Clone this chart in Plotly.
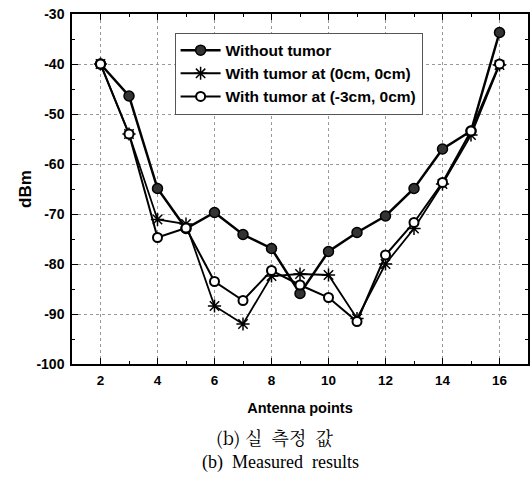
import plotly.graph_objects as go

antenna_points = list(range(2, 17))
without_tumor = [-40, -46.4, -64.9, -72.9, -69.7, -74.1, -76.9, -85.9, -77.5, -73.7, -70.4, -64.9, -57.0, -53.4, -33.7]
tumor_0_0 = [-40, -54.0, -71.1, -72.0, -88.4, -92.0, -82.4, -82.0, -82.2, -90.9, -80.0, -72.9, -64.0, -54.2, -40.2]
tumor_m3_0 = [-40, -54.0, -74.7, -72.8, -83.5, -87.3, -81.3, -84.2, -86.7, -91.5, -78.2, -71.7, -63.7, -53.4, -40.0]

x_ticks = [2, 4, 6, 8, 10, 12, 14, 16]
y_ticks = [-30, -40, -50, -60, -70, -80, -90, -100]

fig = go.Figure()
fig.add_trace(go.Scatter(
    x=antenna_points, y=without_tumor, mode="lines+markers", name="Without tumor",
    line=dict(color="black", width=2.5),
    marker=dict(symbol="circle", size=10, color="#333333", line=dict(color="black", width=1.5)),
))
fig.add_trace(go.Scatter(
    x=antenna_points, y=tumor_0_0, mode="lines+markers", name="With tumor at (0cm, 0cm)",
    line=dict(color="black", width=1.8),
    marker=dict(symbol="asterisk-open", size=11, color="black", line=dict(color="black", width=1.5)),
))
fig.add_trace(go.Scatter(
    x=antenna_points, y=tumor_m3_0, mode="lines+markers", name="With tumor at (-3cm, 0cm)",
    line=dict(color="black", width=2),
    marker=dict(symbol="circle", size=9, color="white", line=dict(color="black", width=2)),
))

fig.update_layout(
    width=532, height=481,
    margin=dict(l=72, r=4, t=14, b=117, autoexpand=False),
    paper_bgcolor="white", plot_bgcolor="white",
    font=dict(family="Liberation Sans, Arial, sans-serif", color="black"),
    legend=dict(
        x=0.225, y=0.947, xanchor="left", yanchor="top",
        bgcolor="white", bordercolor="#555555", borderwidth=1,
        font=dict(family="Liberation Sans, Arial, sans-serif", size=15.5, color="black", weight="bold"),
        tracegroupgap=0, itemwidth=40,
    ),
    showlegend=True,
)
fig.update_xaxes(
    range=[1, 17], tickvals=x_ticks, ticktext=[str(v) for v in x_ticks],
    ticks="inside", ticklen=6, tickcolor="black", mirror="ticks",
    showline=True, linecolor="black", linewidth=1.5,
    showgrid=True, gridcolor="#999999", griddash="dot", gridwidth=1,
    minor=dict(dtick=1, tick0=1, ticks="inside", ticklen=3, tickcolor="black", showgrid=False),
    tickfont=dict(family="Liberation Sans, Arial, sans-serif", size=13.5, color="black", weight="bold"),
    ticklabelstandoff=3, ticklabeloverflow="allow", automargin=False,
    title=dict(text="<b>Antenna points</b>", font=dict(size=14.5), standoff=16),
    zeroline=False,
)
fig.update_yaxes(
    range=[-100, -30], tickvals=y_ticks, ticktext=[str(v) for v in y_ticks],
    ticks="inside", ticklen=6, tickcolor="black", mirror="ticks",
    showline=True, linecolor="black", linewidth=1.5,
    showgrid=True, gridcolor="#999999", griddash="dot", gridwidth=1,
    minor=dict(dtick=5, tick0=-100, ticks="inside", ticklen=3, tickcolor="black", showgrid=False),
    tickfont=dict(family="Liberation Sans, Arial, sans-serif", size=14, color="black", weight="bold"),
    ticklabelstandoff=3, ticklabeloverflow="allow", automargin=False,
    title=dict(text="<b>dBm</b>", font=dict(size=17), standoff=0),
    zeroline=False,
)
fig.add_annotation(
    text="(b) 실  측정  값", xref="paper", yref="paper", x=0.445, y=-0.209,
    xanchor="center", yanchor="middle", showarrow=False,
    font=dict(family="Noto Serif CJK KR, Noto Sans CJK KR, Liberation Serif, serif", size=18, color="black"),
)
fig.add_annotation(
    text="(b)  Measured  results", xref="paper", yref="paper", x=0.458, y=-0.28,
    xanchor="center", yanchor="middle", showarrow=False,
    font=dict(family="Liberation Serif, Times New Roman, serif", size=18, color="black"),
)
fig.write_html("out.html", config={"displayModeBar": False},
               post_script="document.body.style.margin='0';")
